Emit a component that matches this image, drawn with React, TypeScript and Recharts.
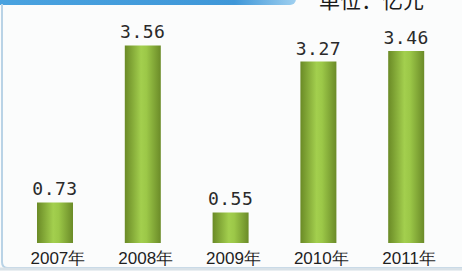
import { BarChart, Bar, XAxis, YAxis, LabelList } from 'recharts';

const years = ['2007年', '2008年', '2009年', '2010年', '2011年'];
const values = [0.73, 3.56, 0.55, 3.27, 3.46];
const valueLabels = ['0.73', '3.56', '0.55', '3.27', '3.46'];
const unitText = '单位：亿元';

const chartData = years.map((year, i) => ({
  year,
  value: values[i],
  label: valueLabels[i],
}));

const YearTick = ({ x, y, payload }: any) => (
  <text
    x={x + 3}
    y={y + 13}
    textAnchor="middle"
    fontSize={17}
    fill="#1f1f1f"
    fontFamily="'Liberation Sans', Arial, sans-serif"
  >
    {payload.value}
  </text>
);

const ValueLabel = ({ x, y, width, index }: any) => (
  <text
    x={x + width / 2}
    y={y - 7}
    textAnchor="middle"
    fontSize={18}
    letterSpacing={0.5}
    fill="#2a2a2a"
    fontFamily="'DejaVu Sans Mono', monospace"
  >
    {valueLabels[index]}
  </text>
);

export default function App() {
  return (
    <div
      style={{
        position: 'fixed',
        left: 0,
        top: 0,
        width: 462,
        height: 271,
        background: '#fbfcfc',
        overflow: 'hidden',
      }}
    >
      <svg width={462} height={271} style={{ position: 'absolute', left: 0, top: 0 }}>
        <defs>
          <linearGradient id="banner" x1="0" y1="0" x2="1" y2="0">
            <stop offset="0%" stopColor="#4aa3e0" />
            <stop offset="80%" stopColor="#3f97d8" />
            <stop offset="100%" stopColor="#9fd0f0" />
          </linearGradient>
        </defs>
        <rect x={-10} y={-12} width={306} height={17} rx={6} fill="url(#banner)" />
        <path d="M2 4 L2 262 Q2 268 8 268 L462 268" fill="none" stroke="#b9d3e6" strokeWidth={2} />
        <line x1={0} y1={269} x2={462} y2={269} stroke="#d9e2e8" strokeWidth={3} />
        <text
          x={319}
          y={8}
          fontSize={21}
          fill="#1a1a1a"
          fontFamily="'Noto Sans CJK SC', sans-serif"
        >
          {unitText}
        </text>
      </svg>
      <div style={{ position: 'absolute', left: 0, top: 0 }}>
        <BarChart
          width={462}
          height={271}
          data={chartData}
          margin={{ top: 21, right: 12, left: 11, bottom: 0 }}
          barCategoryGap={26}
        >
          <defs>
            <linearGradient id="barFill" x1="0" y1="0" x2="1" y2="0">
              <stop offset="0%" stopColor="#6a8a26" />
              <stop offset="45%" stopColor="#a3cf4e" />
              <stop offset="60%" stopColor="#9cc848" />
              <stop offset="100%" stopColor="#6b8b28" />
            </linearGradient>
          </defs>
          <XAxis
            dataKey="year"
            axisLine={false}
            tickLine={false}
            height={28}
            interval={0}
            tick={<YearTick />}
          />
          <YAxis hide domain={[0, 4]} />
          <Bar dataKey="value" fill="url(#barFill)" isAnimationActive={false}>
            <LabelList dataKey="label" content={<ValueLabel />} />
          </Bar>
        </BarChart>
      </div>
    </div>
  );
}
